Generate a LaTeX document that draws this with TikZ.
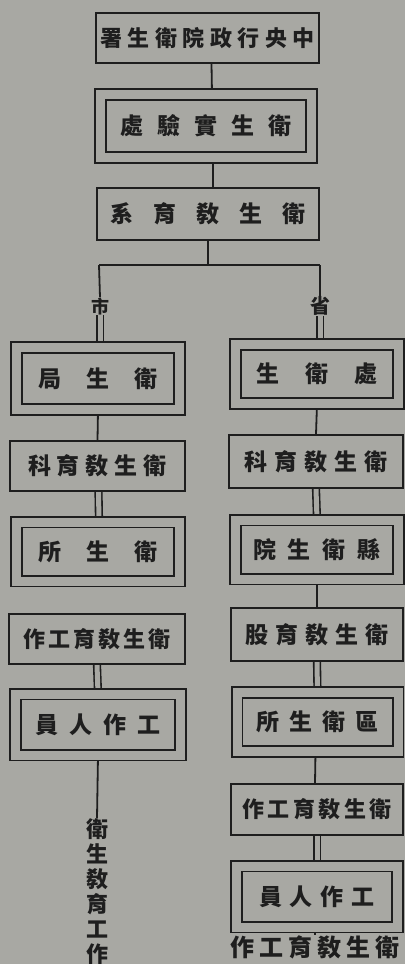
\documentclass[tikz,border=0pt]{standalone}
\usepackage{fontspec}
\newfontfamily\cjk{Noto Sans CJK TC}
\usetikzlibrary{backgrounds}
\definecolor{paper}{RGB}{168,168,163}
\definecolor{ink}{RGB}{30,30,30}
\ExplSyntaxOn
\NewDocumentCommand\spc{mm}
 {
  \bool_set_false:N \l_tmpa_bool
  \tl_map_inline:nn {#2}
   {
    \bool_if:NT \l_tmpa_bool { \hspace{#1} }
    \bool_set_true:N \l_tmpa_bool
    ##1
   }
 }
\ExplSyntaxOff
\tikzset{
  lbl/.style={text=ink, inner sep=0pt, font=\cjk\bfseries\fontsize{#1}{#1}\selectfont},
  lbl/.default=23,
  sbox/.style={draw=ink, line width=1.8pt, inner sep=0pt, text=ink,
               font=\cjk\bfseries\fontsize{23}{23}\selectfont},
  dbox/.style={sbox, double=paper, double distance=9pt},
  wire/.style={draw=ink, line width=1.8pt},
  dwire/.style={draw=ink, line width=1.6pt, double=paper, double distance=5pt},
}
\begin{document}
\begin{tikzpicture}[x=1pt,y=-1pt]
\useasboundingbox (0,0) rectangle (405,964);
% centre column
\node[sbox, minimum width=223pt, minimum height=50pt, font=\cjk\bfseries\fontsize{22}{22}\selectfont] (T) at (207.5,38) {\spc{5.5pt}{署生衛院政行央中}};
\node[dbox, minimum width=211pt, minimum height=62.5pt] (B2) at (206,126) {\spc{14pt}{處驗實生衛}};
\node[sbox, minimum width=222pt, minimum height=52pt] (B3) at (208,214) {\spc{20pt}{系育敎生衛}};
\coordinate (jL) at (99,265);
\coordinate (jR) at (320,265);
\node[lbl=18] (shi) at (100,306) {市};
\node[lbl=20] (sheng) at (320,306) {省};
% left column
\node[dbox, minimum width=163.5pt, minimum height=62pt] (L1) at (98,378.5) {\spc{25pt}{局生衛}};
\node[sbox, minimum width=175pt, minimum height=50pt] (L2) at (97.5,466) {\spc{6pt}{科育敎生衛}};
\node[dbox, minimum width=163.5pt, minimum height=59pt] (L3) at (98,551.5) {\spc{25pt}{所生衛}};
\node[sbox, minimum width=176pt, minimum height=50pt, font=\cjk\bfseries\fontsize{22}{22}\selectfont] (L4) at (97,639) {\spc{3pt}{作工育敎生衛}};
\node[dbox, minimum width=165pt, minimum height=61pt] (L5) at (98,724.5) {\spc{11pt}{員人作工}};
\node[lbl=22, anchor=north, align=center, font=\cjk\bfseries\fontsize{22}{25}\selectfont] (vt) at (97,818) {衛\\生\\敎\\育\\工\\作};
% right column
\node[dbox, minimum width=162.5pt, minimum height=59.5pt] (R1) at (317,374) {\spc{26pt}{生衛處}};
\node[sbox, minimum width=174pt, minimum height=53pt] (R2) at (316,461.5) {\spc{7pt}{科育敎生衛}};
\node[dbox, minimum width=162.5pt, minimum height=59pt] (R3) at (317,549.5) {\spc{12pt}{院生衛縣}};
\node[sbox, minimum width=172pt, minimum height=53pt] (R4) at (317,634.5) {\spc{7pt}{股育敎生衛}};
\node[dbox, minimum width=161pt, minimum height=58.5pt] (R5) at (317.5,722) {\spc{10pt}{所生衛區}};
\node[sbox, minimum width=172pt, minimum height=51pt, font=\cjk\bfseries\fontsize{22}{22}\selectfont] (R6) at (317,809.5) {\spc{3.5pt}{作工育敎生衛}};
\node[dbox, minimum width=161.5pt, minimum height=61pt] (R7) at (317,896.5) {\spc{8pt}{員人作工}};
\node[lbl=24] (bt) at (315,947) {\spc{5pt}{作工育敎生衛}};
% connectors under the boxes
\begin{pgfonlayer}{background}
\fill[paper] (0,0) rectangle (405,964);
\draw[wire] ([xshift=4pt]T.south) -- ([xshift=6pt]B2.north);
\draw[wire] ([xshift=7pt]B2.south) -- ([xshift=5pt]B3.north);
\draw[wire] (B3.south) -- (B3.south |- jL);
\draw[wire] (jL) -- (jR);
\draw[wire] (jL) -- (shi.north);
\draw[wire] (jR) -- (sheng.north);
\draw[dwire] (shi.south) -- (shi.south |- L1.north);
\draw[dwire] (sheng.south) -- (sheng.south |- R1.north);
\draw[wire] (L1.south) -- (L2.north);
\draw[dwire] ([xshift=1pt]L2.south) -- ([xshift=1pt]L3.north);
\draw[dwire] (L4.south) -- (L5.north);
\draw[wire] (L5.south) -- (vt.north);
\draw[wire] (R1.south) -- (R2.north);
\draw[dwire] (R2.south) -- (R3.north);
\draw[wire] (R3.south) -- (R4.north);
\draw[dwire] (R4.south) -- (R5.north);
\draw[wire] ([xshift=-2pt]R5.south) -- ([xshift=-2pt]R6.north);
\draw[dwire] (R6.south) -- (R7.north);
\draw[wire, line width=1.4pt] ([xshift=-2pt]R7.south) -- (bt.north);
\end{pgfonlayer}
\end{tikzpicture}
\end{document}
